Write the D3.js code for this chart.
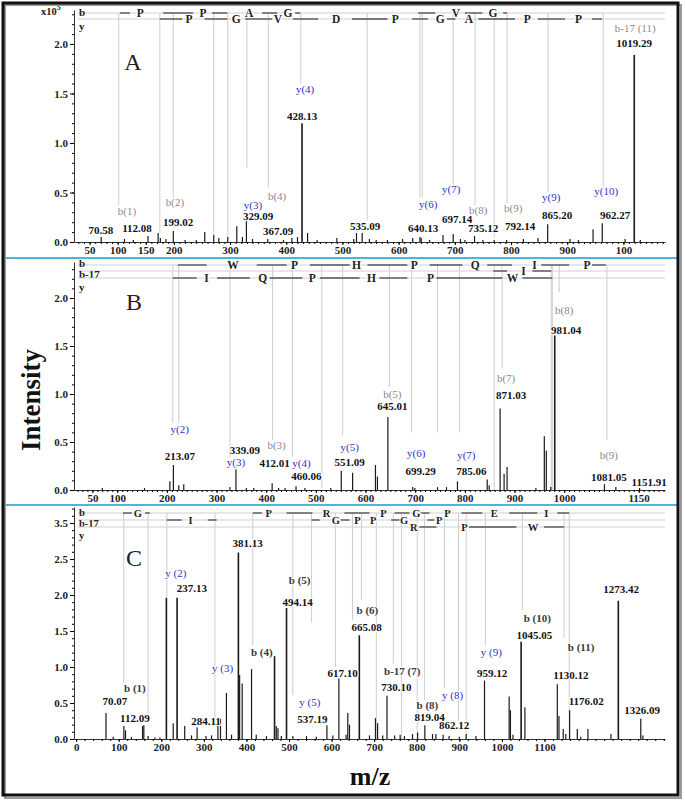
<!DOCTYPE html>
<html>
<head>
<meta charset="utf-8">
<script src="https://cdn.jsdelivr.net/npm/d3@7"></script>
<style>
  body { margin: 0; background: #fff; }
  svg { display: block; }
  text { font-family: "Liberation Serif", "Times New Roman", serif; }
</style>
</head>
<body>
<svg width="685" height="802"></svg>
<script>
// ---------------- data (m/z, intensity x10^5) ----------------
const peaksA = [[70.6,0.05],[112.1,0.03],[128,0.02],[154,0.06],[172,0.09],[176,0.04],[186,0.03],[199.0,0.11],[220,0.02],[240,0.02],
  [255,0.10],[271,0.07],[280,0.04],[296,0.05],[312,0.16],[322,0.05],[329.1,0.21],[340,0.03],[367.1,0.03],[395,0.02],[410,0.04],
  [420,0.05],[428.1,1.20],[438,0.09],[455,0.02],[490,0.04],[520,0.03],[525,0.09],[535.1,0.09],[548,0.03],[560,0.02],[580,0.02],
  [607,0.03],[625,0.04],[638,0.05],[640.1,0.04],[655,0.02],[679,0.07],[697.1,0.08],[710,0.03],[718,0.02],[735.1,0.06],[750,0.02],
  [770,0.02],[792.1,0.02],[822,0.03],[848,0.04],[865.2,0.18],[905,0.03],[920,0.02],[946,0.13],[962.3,0.19],[1003,0.03],
  [1019.3,1.89],[1030,0.02]];
const peaksB = [[70,0.02],[155,0.02],[206,0.09],[213.1,0.26],[224,0.05],[234,0.06],[327,0.03],[339.1,0.24],[360,0.02],[375,0.02],
  [412.0,0.07],[425,0.02],[438,0.02],[460.1,0.04],[478,0.02],[530,0.02],[551.1,0.20],[574,0.18],[620,0.26],[624,0.14],[645.0,0.76],
  [695,0.03],[699.3,0.02],[745,0.03],[763,0.03],[785.1,0.09],[845,0.11],[849,0.05],[871.0,0.85],[879,0.17],[885,0.24],[943,0.02],
  [960,0.56],[964,0.41],[973,0.03],[981.0,1.61],[1081.1,0.06],[1104,0.03],[1151.9,0.02]];
const peaksC = [[70.1,0.36],[87,0.03],[112.1,0.18],[116,0.12],[130,0.03],[156,0.18],[159,0.19],[169,0.04],[185,0.02],[197,0.02],
  [212,1.96],[228,0.22],[237.1,1.96],[255,0.18],[271,0.05],[284.1,0.16],[305,0.04],[318,0.05],[333,0.27],[339,0.28],[353,0.64],
  [365,0.06],[381.1,2.59],[384,0.89],[390,0.77],[412,0.97],[423,0.06],[447,0.04],[466,1.15],[470,0.18],[474,0.15],[482,0.04],
  [494.1,1.82],[509,0.04],[541,0.04],[564,0.03],[589,0.19],[603,0.05],[617.1,0.84],[634,0.06],[638,0.36],[642,0.20],[665.1,1.44],
  [689,0.05],[703,0.29],[708,0.22],[720,0.05],[730.1,0.60],[748,0.05],[761,0.06],[771,0.04],[790,0.07],[802,0.09],[819.0,0.19],
  [837,0.07],[845,0.07],[862,0.06],[876,0.04],[900,0.03],[916,0.07],[939,0.04],[959.1,0.81],[1017,0.59],[1020,0.40],[1026,0.06],
  [1045.1,1.35],[1054,0.44],[1130.1,0.76],[1134,0.32],[1144,0.14],[1150,0.07],[1159,0.40],[1177,0.14],[1185,0.03],[1202,0.14],
  [1256,0.07],[1273.4,1.92],[1326.1,0.28],[1331,0.05]];

// annotated peaks: [text, kind]  v = m/z value, b = b ion, y = y ion
const annA = [["70.58","v"],["112.08","v"],["b(1)","b"],["b(2)","b"],["199.02","v"],["y(3)","y"],["329.09","v"],["b(4)","b"],
  ["367.09","v"],["y(4)","y"],["428.13","v"],["535.09","v"],["y(6)","y"],["640.13","v"],["y(7)","y"],["697.14","v"],["b(8)","b"],
  ["735.12","v"],["b(9)","b"],["792.14","v"],["y(9)","y"],["865.20","v"],["y(10)","y"],["962.27","v"],["b-17 (11)","b"],["1019.29","v"]];
const annB = [["y(2)","y"],["213.07","v"],["339.09","v"],["y(3)","y"],["b(3)","b"],["412.01","v"],["y(4)","y"],["460.06","v"],
  ["y(5)","y"],["551.09","v"],["b(5)","b"],["645.01","v"],["y(6)","y"],["699.29","v"],["y(7)","y"],["785.06","v"],["b(7)","b"],
  ["871.03","v"],["b(8)","b"],["981.04","v"],["b(9)","b"],["1081.05","v"],["1151.91","v"]];
const annC = [["381.13","v"],["y (2)","y"],["237.13","v"],["b (5)","b"],["494.14","v"],["b (6)","b"],["665.08","v"],["b (4)","b"],
  ["y (3)","y"],["b (1)","b"],["70.07","v"],["112.09","v"],["284.11","v"],["y (5)","y"],["537.19","v"],["617.10","v"],
  ["b-17 (7)","b"],["730.10","v"],["b (8)","b"],["819.04","v"],["y (8)","y"],["862.12","v"],["y (9)","y"],["959.12","v"],
  ["b (10)","b"],["1045.05","v"],["b (11)","b"],["1130.12","v"],["1176.02","v"],["1273.42","v"],["1326.09","v"]];

// fragment ladders: residue letters at m/z, dark segments between fragment m/z
const ladderA = [
  { name: "b", letters: [["P",140],["P",252],["A",334],["G",403],["V",702],["G",768]],
    segs: [[104,122],[181,234],[268,295],[357,384],[416,425],[635,665],[718,749],[786,793]] },
  { name: "y", letters: [["P",227],["G",311],["V",385],["D",489],["P",594],["G",674],["A",725],["P",829],["P",920]],
    segs: [[175,215],[255,295],[327,375],[412,457],[517,580],[624,652],[686,701],[742,807],[848,896],[944,962]] }
];
const ladderB = [
  { name: "b", letters: [["W",333],["P",457],["H",582],["P",698],["Q",821],["I",940],["P",1046]],
    segs: [[222,280],[381,441],[488,568],[604,684],[729,795],[845,895],[954,1010],[1056,1084]] },
  { name: "b-17", letters: [["I",918]], segs: [[857,885],[936,974]] },
  { name: "y", letters: [["I",280],["Q",393],["P",493],["H",612],["P",731],["W",896]],
    segs: [[212,260],[301,367],[407,473],[508,588],[628,684],[743,875],[916,976]] }
];
const ladderC = [
  { name: "b", letters: [["G",145],["P",452],["R",588],["P",722],["G",799],["P",872],["E",982],["I",1104]],
    segs: [[110,131],[162,173],[415,436],[494,555],[630,689],[748,783],[806,830],[905,954],[1017,1083],[1130,1158]] },
  { name: "b-17", letters: [["I",269],["G",610],["P",661],["P",698],["G",770],["P",853]],
    segs: [[213,248],[309,330],[553,572],[620,642],[740,760],[825,841]] },
  { name: "y", letters: [["R",793],["P",912],["W",1073]], segs: [[806,846],[923,1034],[1099,1146]] }
];

// fragment guide lines (m/z)
const guideA = [102,175,199,271,296,330,368,426,544,638,642,697,736,770,793,866,964];
const guideB = [212,224,327,413,453,512,554,648,693,745,789,859,875,974,976,990,1086];
const guideC = [112,169,213,326,415,509,553,609,649,670,705,745,764,801,818,865,898,916,961,1048,1146,1158];

// axis ticks
const xTicksA = [50,100,150,200,300,400,500,600,700,800,900,1000];
const xTicksB = [50,100,200,300,400,500,600,700,800,900,1000,1150];
const xTicksC = [0,100,200,300,400,500,600,700,800,900,1000,1100];
const yTicksA = [0,0.5,1,1.5,2];
const yTicksB = [0,0.5,1,1.5,2];
const yTicksC = [0,0.5,1,1.5,2,2.5,3];
const yLabelsC = ["0.0","0.5","1.0","1.5","2.0","2.5","3.5"];

// ---------------- layout ----------------
// where guide lines stop (intensity level)
const guideEndA = [0.37,0.09,0.44,0.07,0.05,0.75,0.55,1.6,0.22,0.45,0.45,0.58,0.37,0.04,0.39,0.5,0.56];
const guideEndB = [0.70,0.70,0.34,0.52,0.35,0.02,0.57,1.07,0.60,0.60,0.60,0,1.27,0,0,2.06,0.52];
const guideEndC = [0.78,0.26,1.96,0.3,1.3,0.61,1.62,1.0,1.65,1.93,0,1.05,0,0,0.54,0.71,0.26,0,1.3,1.79,1.4,0];
// label centres as [m/z, level]
const annPosA = [[70.3,0.12],[134.4,0.14],[116.6,0.31],[202,0.40],[207.4,0.20],[340.9,0.37],[349.8,0.26],[383.7,0.46],
  [385.4,0.11],[433.5,1.54],[428.2,1.27],[540.3,0.16],[652.5,0.38],[643.6,0.14],[693.5,0.53],[704.1,0.23],[741.5,0.32],
  [750.4,0.14],[803.8,0.34],[816.3,0.16],[871.5,0.45],[882.2,0.27],[969.4,0.51],[985.4,0.27],[1020.9,2.16],[1019.2,2.01]];
const annPosB = [[226,0.63],[226,0.35],[357,0.41],[339,0.29],[421,0.47],[417,0.28],[471,0.28],[481,0.14],[568,0.45],[568,0.29],
  [654,1.0],[654,0.875],[702,0.385],[711,0.20],[803,0.365],[813,0.20],[883,1.17],[893,0.99],[1000,1.875],[1004,1.66],
  [1090,0.365],[1090,0.135],[1171,0.083]];
const annPosC = [[403,2.72],[234,2.31],[272,2.10],[525,2.21],[520,1.90],[684,1.79],[682,1.56],[436,1.21],[344,0.99],[138,0.71],
  [91,0.53],[138,0.29],[305,0.25],[549,0.51],[555,0.28],[626,0.92],[766,0.94],[752,0.72],[825,0.47],[830,0.31],[884,0.61],
  [888,0.19],[975,1.21],[977,0.92],[1083,1.68],[1076,1.44],[1186,1.28],[1162,0.89],[1198,0.53],[1280,2.08],[1329,0.40]];

const panels = [
  { letter: "A", top: 10, zero: 242, yMax: 2.343, mz: [22.3, 1074], peaks: peaksA, ann: annA, annPos: annPosA,
    ladder: ladderA, rowY: [3, 9], nameY: [2, 16], nameSize: 11, letterSize: 11.5, guides: guideA, guideEnd: guideEndA,
    xTicks: xTicksA, yTicks: yTicksA, yLabels: null, minorX: 10, bColor: "#8a8a8a", letterPos: [133, 62] },
  { letter: "B", top: 262, zero: 490, yMax: 2.375, mz: [13, 1203], peaks: peaksB, ann: annB, annPos: annPosB,
    ladder: ladderB, rowY: [3, 9, 16], nameY: [1, 12, 25], nameSize: 11, letterSize: 11.5, guides: guideB, guideEnd: guideEndB,
    xTicks: xTicksB, yTicks: yTicksB, yLabels: null, minorX: 10, bColor: "#8a8a8a", letterPos: [134, 302] },
  { letter: "C", top: 507, zero: 739, yMax: 3.222, mz: [-5, 1383], peaks: peaksC, ann: annC, annPos: annPosC,
    ladder: ladderC, rowY: [6, 13, 20], nameY: [5, 16, 28], nameSize: 10.5, letterSize: 10.5, guides: guideC, guideEnd: guideEndC,
    xTicks: xTicksC, yTicks: yTicksC, yLabels: yLabelsC, minorX: 20, bColor: "#3a3a3a", letterPos: [134, 558] }
];

const svg = d3.select("svg");
const X0 = 74, X1 = 665;
const SERIF = "Liberation Serif, Times New Roman, serif";

function drawPanel(p) {
  const g = svg.append("g");
  const x = d3.scaleLinear().domain(p.mz).range([X0, X1]);
  const y = d3.scaleLinear().domain([0, p.yMax]).range([p.zero, p.top]);
  const rowTop = p.top + p.rowY[0];

  // guide lines
  g.append("g").selectAll("line")
    .data(p.guides)
    .join("line")
    .attr("x1", d => x(d)).attr("x2", d => x(d))
    .attr("y1", rowTop).attr("y2", (d, i) => y(p.guideEnd[i]))
    .attr("stroke", "#cdcdcd").attr("stroke-width", 1);

  // ladder rows
  p.ladder.forEach((row, i) => {
    const ry = p.top + p.rowY[i];
    const rg = g.append("g");
    rg.append("line").attr("x1", X0 + 4).attr("x2", X1).attr("y1", ry).attr("y2", ry)
      .attr("stroke", "#cfcfcf").attr("stroke-width", 1);
    rg.selectAll(".seg").data(row.segs).join("line")
      .attr("x1", d => x(d[0])).attr("x2", d => x(d[1]))
      .attr("y1", ry).attr("y2", ry)
      .attr("stroke", "#555").attr("stroke-width", 1.4);
    rg.selectAll(".res").data(row.letters).join("text")
      .attr("x", d => x(d[1])).attr("y", ry).attr("dy", "0.35em")
      .attr("text-anchor", "middle").attr("font-size", p.letterSize)
      .attr("font-weight", "bold").attr("fill", "#222")
      .attr("stroke", "#fff").attr("stroke-width", 2).attr("paint-order", "stroke")
      .text(d => d[0]);
    g.append("text").attr("x", X0 + 5).attr("y", p.top + p.nameY[i]).attr("dy", "0.35em")
      .attr("font-size", p.nameSize).attr("font-weight", "bold").attr("fill", "#222")
      .text(row.name);
  });

  // peaks
  g.append("g").selectAll("line")
    .data(p.peaks)
    .join("line")
    .attr("x1", d => x(d[0])).attr("x2", d => x(d[0]))
    .attr("y1", y(0)).attr("y2", d => y(d[1]))
    .attr("stroke", "#1a1a1a").attr("stroke-width", d => d[1] > 1 ? 1.6 : 1.2);

  // x axis
  const xa = g.append("g").attr("transform", `translate(0,${p.zero})`)
    .call(d3.axisBottom(x).tickValues(p.xTicks).tickSize(3).tickSizeOuter(0).tickPadding(1)
      .tickFormat(d => (p.letter === "A" && d === 1000) ? "100" : d));
  const minorX = d3.range(Math.ceil(p.mz[0] / p.minorX) * p.minorX, p.mz[1], p.minorX);
  g.append("g").attr("transform", `translate(0,${p.zero})`)
    .call(d3.axisBottom(x).tickValues(minorX).tickSize(2).tickSizeOuter(0).tickFormat(""))
    .call(a => a.select(".domain").remove());
  xa.selectAll("text").attr("font-family", SERIF).attr("font-size", 11).attr("font-weight", "bold").attr("fill", "#222");
  xa.select(".domain").attr("stroke", "#333");

  // y axis
  const yFmt = p.yLabels ? (d, i) => p.yLabels[i] : d3.format(".1f");
  const ya = g.append("g").attr("transform", `translate(${X0},0)`)
    .call(d3.axisLeft(y).tickValues(p.yTicks).tickSize(4).tickSizeOuter(0).tickPadding(2).tickFormat(yFmt));
  g.append("g").attr("transform", `translate(${X0},0)`)
    .call(d3.axisLeft(y).tickValues(d3.range(0, p.yMax, 0.1)).tickSize(2).tickSizeOuter(0).tickFormat(""))
    .call(a => a.select(".domain").remove());
  ya.selectAll("text").attr("font-family", SERIF).attr("font-size", 11).attr("font-weight", "bold").attr("fill", "#222");
  ya.select(".domain").attr("stroke", "#333");

  // annotations
  const colors = { v: "#111", y: "#3232c8", b: p.bColor };
  g.append("g").selectAll("text")
    .data(p.ann)
    .join("text")
    .attr("x", (d, i) => x(p.annPos[i][0]))
    .attr("y", (d, i) => y(p.annPos[i][1]))
    .attr("dy", "0.35em")
    .attr("text-anchor", "middle")
    .attr("font-size", 11)
    .attr("font-weight", d => (d[1] === "v" || (p.letter === "C" && d[1] === "b")) ? "bold" : "normal")
    .attr("fill", d => colors[d[1]])
    .attr("stroke", "#fff").attr("stroke-width", 2).attr("paint-order", "stroke")
    .text(d => d[0]);

  // panel letter
  g.append("text").attr("x", p.letterPos[0]).attr("y", p.letterPos[1]).attr("dy", "0.35em")
    .attr("text-anchor", "middle").attr("font-size", 24).attr("fill", "#222").text(p.letter);
}

panels.forEach(drawPanel);

// x10^5
const ex = svg.append("text").attr("x", 41).attr("y", 15).attr("font-size", 10.5).attr("font-weight", "bold").attr("fill", "#222");
ex.append("tspan").text("x10");
ex.append("tspan").attr("dy", -5).attr("font-size", 8).text("5");

// separators
svg.selectAll(".sep").data([258, 505]).join("line")
  .attr("x1", 4).attr("x2", 679).attr("y1", d => d).attr("y2", d => d)
  .attr("stroke", "#4fb3dc").attr("stroke-width", 2);

// axis titles
svg.append("text").attr("transform", "translate(31,400) rotate(-90)").attr("text-anchor", "middle").attr("dy", "0.35em")
  .attr("font-size", 27).attr("font-weight", "bold").attr("fill", "#111").text("Intensity");
svg.append("text").attr("x", 370).attr("y", 776).attr("text-anchor", "middle").attr("dy", "0.35em")
  .attr("font-size", 26).attr("font-weight", "bold").attr("fill", "#111").text("m/z");

// frame
svg.append("rect").attr("x", 5).attr("y", 5).attr("width", 676).attr("height", 793)
  .attr("fill", "none").attr("stroke", "#9a9a9a").attr("stroke-width", 2);
svg.append("rect").attr("x", 3).attr("y", 3).attr("width", 675).attr("height", 792)
  .attr("fill", "none").attr("stroke", "#111").attr("stroke-width", 3);
</script>
</body>
</html>
